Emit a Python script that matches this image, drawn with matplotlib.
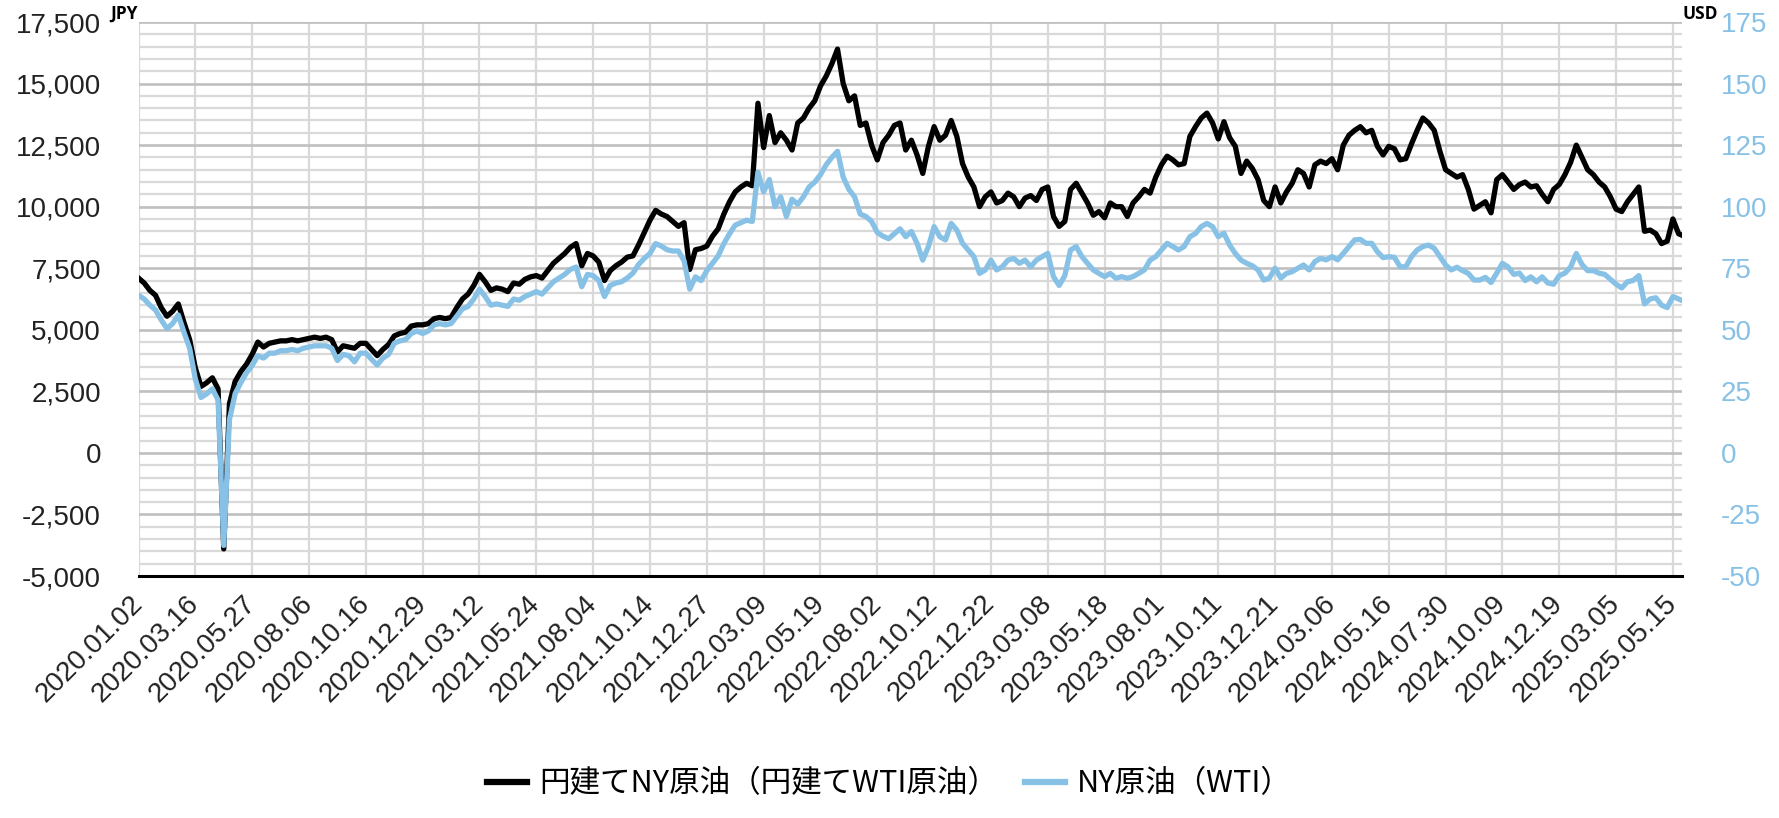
import matplotlib
matplotlib.use("Agg")
import matplotlib.pyplot as plt
import numpy as np
from matplotlib.lines import Line2D

plt.rcParams["font.family"] = ["Liberation Sans", "Noto Sans CJK JP", "DejaVu Sans"]

# category labels on the x axis (one every 10 weekly points)
date_labels = [
    "2020.01.02", "2020.03.16", "2020.05.27", "2020.08.06", "2020.10.16",
    "2020.12.29", "2021.03.12", "2021.05.24", "2021.08.04", "2021.10.14",
    "2021.12.27", "2022.03.09", "2022.05.19", "2022.08.02", "2022.10.12",
    "2022.12.22", "2023.03.08", "2023.05.18", "2023.08.01", "2023.10.11",
    "2023.12.21", "2024.03.06", "2024.05.16", "2024.07.30", "2024.10.09",
    "2024.12.19", "2025.03.05", "2025.05.15",
]

# 円建てNY原油 (JPY), weekly readings
wti_jpy = [
    7100, 6900, 6600, 6400, 5900, 5550, 5750, 6050, 5300, 4600,
    3450, 2700, 2850, 3050, 2600, -3900, 2000, 2900, 3300, 3600,
    4000, 4500, 4300, 4450, 4500, 4550, 4550, 4600, 4550, 4600,
    4650, 4700, 4650, 4700, 4600, 4100, 4350, 4300, 4250, 4450,
    4450, 4200, 3950, 4200, 4400, 4750, 4850, 4900, 5150, 5200,
    5200, 5250, 5450, 5500, 5450, 5500, 5900, 6250, 6450, 6800,
    7250, 6950, 6600, 6700, 6650, 6550, 6900, 6850, 7050, 7150,
    7200, 7100, 7400, 7700, 7900, 8100, 8350, 8500, 7600, 8100,
    8000, 7750, 7000, 7400, 7600, 7750, 7950, 8000, 8450, 8950,
    9450, 9850, 9700, 9600, 9400, 9200, 9350, 7450, 8250, 8300,
    8400, 8800, 9100, 9700, 10200, 10600, 10800, 10950, 10850, 14200,
    12400, 13700, 12600, 13000, 12700, 12300, 13400, 13600, 14000, 14300,
    14900, 15300, 15800, 16400, 15000, 14300, 14500, 13300, 13400, 12500,
    11900, 12600, 12900, 13300, 13400, 12300, 12700, 12100, 11350, 12450,
    13250, 12700, 12900, 13500, 12850, 11750, 11200, 10800, 10000, 10400,
    10600, 10150, 10250, 10550, 10400, 10000, 10350, 10450, 10250, 10700,
    10800, 9600, 9200, 9400, 10700, 10950, 10550, 10150, 9650, 9800,
    9550, 10150, 10000, 10000, 9600, 10150, 10400, 10700, 10550, 11200,
    11700, 12050, 11900, 11700, 11750, 12850, 13250, 13600, 13800, 13400,
    12750, 13450, 12800, 12450, 11350, 11850, 11550, 11100, 10250, 10000,
    10800, 10150, 10600, 10950, 11500, 11350, 10800, 11700, 11850, 11750,
    11950, 11500, 12500, 12900, 13100, 13250, 13000, 13100, 12450, 12100,
    12450, 12350, 11900, 11950, 12550, 13100, 13600, 13400, 13100, 12250,
    11500, 11350, 11200, 11300, 10700, 9900, 10050, 10200, 9750, 11100,
    11300, 11000, 10700, 10900, 11000, 10800, 10850, 10500, 10200, 10700,
    10900, 11300, 11800, 12500, 12000, 11500, 11300, 11000, 10800, 10400,
    9900, 9800, 10200, 10500, 10800, 9000, 9050, 8900, 8500, 8600,
    9500, 8900, 8800,
]

# NY原油 WTI (USD), weekly readings
wti_usd = [
    64.0, 62.5, 60, 58, 54, 50.5, 52.5, 56, 49, 42.5,
    30, 22.5, 24, 26, 21.5, -37.6, 13.5, 24, 28.5, 32.5,
    35.5, 39.5, 38.5, 40.5, 40.5, 41.5, 41.5, 42, 41.5, 42.5,
    43, 43.5, 43.5, 43.5, 42.5, 37.5, 40, 39.5, 37, 40.5,
    40.5, 38, 35.7, 38.5, 40, 44.5, 45.5, 46, 48.5, 49.5,
    48.5, 49.5, 52, 52.5, 52, 52.5, 55.5, 58.5, 59.5, 62.5,
    66.5, 63.5, 60, 60.5, 60, 59.5, 62.5, 62, 63.5, 64.5,
    65.5, 64.5, 67, 69.5, 71, 72.5, 74.5, 75.5, 67.5, 72.5,
    72, 70, 63.5, 68, 69, 69.5, 71, 73, 76.5, 79,
    81, 85, 84, 82.5, 82, 82, 78, 66.5, 71.5, 70,
    74, 77, 80, 85, 89, 92.5, 93.5, 94.5, 94, 114,
    106, 111, 100, 104, 96, 103, 101, 104, 108, 110,
    113, 117, 120, 122.5, 112, 107, 104, 97, 96, 94,
    89.5, 88, 87, 89, 91, 87.8, 89.9, 85.1, 78.3, 83.8,
    91.9, 87.8, 86.5, 93.2, 90.5, 85.1, 82.4, 79.7, 72.9, 74.3,
    78.3, 74.3, 75.6, 78.3, 79, 77, 78.3, 75.6, 78.3, 79.7,
    81, 71.6, 68, 72, 82.4, 83.8, 79.7, 77, 74.3, 72.9,
    71.6, 72.9, 70.9, 71.6, 70.9, 71.6, 72.9, 74.3, 78.3, 79.7,
    82.4, 85.1, 83.8, 82.4, 83.8, 87.8, 89.1, 91.9, 93.2, 91.9,
    87.8, 89.2, 84.4, 81, 78.3, 77, 76, 74.3, 70.2, 71,
    75, 71, 72.9, 73.6, 75, 76.3, 74.3, 77.7, 79, 78.4,
    79.7, 78.4, 81, 83.8, 86.5, 86.7, 85.1, 85.1, 81.7, 79.3,
    79.7, 79.4, 75.6, 75.6, 79.7, 82.4, 83.8, 84.4, 83.1, 79.7,
    76.3, 74.3, 75.4, 74, 72.9, 70.2, 70.2, 71.3, 69.2, 73,
    77, 75.5, 72.5, 73, 70, 71.5, 69.5, 71.5, 69, 68.5,
    72, 73, 75.5, 81, 76.5, 74, 74, 73, 72.5, 70.5,
    68.5, 67, 69.5, 70, 72, 60.5, 62.5, 63, 60, 59,
    63.5, 62.5, 61.5,
]

jpy_ticks = list(range(-5000, 17501, 2500))
usd_ticks = list(range(-50, 176, 25))

label_jpy = "円建てNY原油（円建てWTI原油）"
label_usd = "NY原油（WTI）"

black = "#000000"
blue = "#88C1E6"

W, H = 1779, 818
fig = plt.figure(figsize=(W / 100, H / 100), dpi=100)
left, right, top, bottom = 138.5, 1682, 22, 576
ax = fig.add_axes([left / W, (H - bottom) / H, (right - left) / W, (bottom - top) / H])

x = np.arange(len(wti_jpy))
tick_pos = np.arange(len(date_labels)) * 10

ax.plot(x, wti_jpy, color=black, linewidth=3.8, zorder=3)
ax.set_xlim(0, 271.6)
ax.set_ylim(-5000, 17500)

ax.set_yticks(jpy_ticks)
ax.set_yticklabels([f"{v:,}" for v in jpy_ticks])
ax.set_yticks(np.arange(-5000, 17501, 500), minor=True)
ax.set_xticks(tick_pos)
ax.set_xticklabels(date_labels, rotation=45, ha="right", va="center",
                   rotation_mode="anchor")

ax.set_axisbelow(True)
ax.grid(which="minor", axis="y", color="#D9D9D9", linewidth=1.6)
ax.grid(which="major", axis="y", color="#BFBFBF", linewidth=1.9)
ax.grid(which="major", axis="x", color="#D9D9D9", linewidth=1.6)

for s in ["top", "right", "left"]:
    ax.spines[s].set_visible(False)
ax.spines["bottom"].set_color("black")
ax.spines["bottom"].set_linewidth(2.2)
ax.spines["bottom"].set_zorder(5)

ax.tick_params(axis="both", which="both", length=0, labelsize=20, colors="#222222")
ax.tick_params(axis="y", pad=27)
ax.tick_params(axis="x", pad=17)

ax2 = ax.twinx()
ax2.plot(x, wti_usd, color=blue, linewidth=3.8, zorder=3)
ax2.set_ylim(-50, 175)
ax2.set_yticks(usd_ticks)
ax2.set_yticklabels([str(v) for v in usd_ticks])
ax2.tick_params(axis="y", length=0, labelsize=20, colors=blue, pad=28)
for s in ax2.spines.values():
    s.set_visible(False)

fig.text(110 / W, 1 - 5 / H, "JPY", fontsize=12.5, fontweight="bold",
         family=["Open Sans", "DejaVu Sans"], ha="left", va="top")
fig.text(1683 / W, 1 - 5 / H, "USD", fontsize=12.5, fontweight="bold",
         family=["Open Sans", "DejaVu Sans"], ha="left", va="top")

handles = [Line2D([], [], color=black, linewidth=4.5),
           Line2D([], [], color=blue, linewidth=4.5)]
fig.legend(handles, [label_jpy, label_usd], loc="center",
           bbox_to_anchor=(0.5, 1 - 784 / H), ncol=2, frameon=False,
           prop={"family": ["Noto Sans CJK JP"], "size": 22},
           handlelength=1.3, handletextpad=0.4, columnspacing=0.9)

fig.savefig("out.png", dpi=100)
